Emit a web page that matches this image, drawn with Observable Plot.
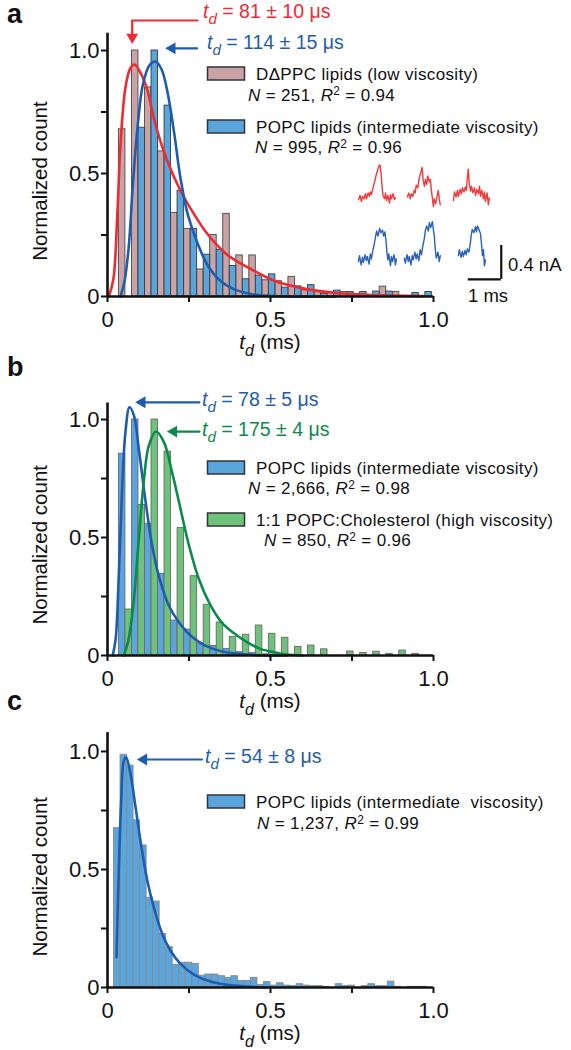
<!DOCTYPE html>
<html><head><meta charset="utf-8">
<script src="https://cdn.jsdelivr.net/npm/d3@7"></script>
<script src="https://cdn.jsdelivr.net/npm/@observablehq/plot@0.6"></script>
<style>
html,body{margin:0;padding:0;background:#fff;}
#fig{position:relative;width:571px;height:1050px;overflow:hidden;font-family:"Liberation Sans",Arial,Helvetica,sans-serif;}
</style></head><body><div id="fig"></div>
<script>
// ---------- data ----------
const tickValues = [0, 0.25, 0.5, 0.75, 1];
const tickLabels = ["0", "", "0.5", "", "1.0"];

// panel a: 0.04 ms bins, DΔPPC (left half) and POPC (right half)
const binLeftAB = d3.range(24).map(k => +(0.035 + 0.04 * k).toFixed(3));
const dappcA = [0.68, 1.0, 0.85, 0.59, 0.34, 0.275, 0.11, 0.25, 0.336, 0.167, 0.167, 0.066, 0.062, 0.08, 0.025, 0.019, 0.016, 0.018, 0.011, 0, 0.04, 0.018, 0, 0];
const popcA  = [0, 0.686, 1.0, 0.776, 0.43, 0.275, 0.17, 0.19, 0.124, 0.07, 0.085, 0.09, 0.036, 0.041, 0.046, 0.011, 0.024, 0.018, 0.018, 0.02, 0.02, 0, 0.014, 0.018];
const fitRedA_x = [0.004, 0.018, 0.03, 0.04, 0.055, 0.07, 0.083, 0.101, 0.122, 0.147, 0.183, 0.224, 0.265, 0.306, 0.367, 0.439, 0.51, 0.592, 0.695, 0.8, 0.97];
const fitRedA_y = [0, 0.07, 0.33, 0.62, 0.85, 0.928, 0.943, 0.91, 0.84, 0.70, 0.553, 0.43, 0.336, 0.255, 0.17, 0.112, 0.065, 0.035, 0.015, 0.007, 0.002];
const fitBlueA_x = [0.04, 0.052, 0.065, 0.078, 0.093, 0.109, 0.13, 0.147, 0.166, 0.185, 0.205, 0.224, 0.247, 0.278, 0.308, 0.345, 0.387, 0.449, 0.53, 0.7];
const fitBlueA_y = [0, 0.06, 0.2, 0.46, 0.70, 0.865, 0.943, 0.955, 0.923, 0.824, 0.66, 0.48, 0.33, 0.21, 0.125, 0.065, 0.03, 0.008, 0.001, 0];

// panel b
const popcB  = [0.855, 1.0, 0.558, 0.346, 0.148, 0.11, 0.05, 0.04, 0.028, 0.014, 0.01, 0.005, 0, 0, 0, 0, 0, 0, 0, 0, 0, 0, 0, 0];
const cholB  = [0.195, 0.638, 1.0, 0.864, 0.54, 0.336, 0.215, 0.14, 0.078, 0.088, 0.127, 0.092, 0.075, 0.036, 0.042, 0.026, 0, 0.017, 0.011, 0.016, 0.007, 0.021, 0.007, 0];
const fitBlueB_x = [0.016, 0.025, 0.035, 0.045, 0.055, 0.0675, 0.081, 0.096, 0.117, 0.137, 0.157, 0.188, 0.219, 0.26, 0.30, 0.352, 0.44, 0.55];
const fitBlueB_y = [0, 0.07, 0.353, 0.706, 0.946, 1.052, 1.017, 0.876, 0.65, 0.466, 0.339, 0.212, 0.141, 0.078, 0.042, 0.017, 0.003, 0];
const fitGreenB_x = [0.05, 0.065, 0.081, 0.096, 0.111, 0.127, 0.149, 0.173, 0.198, 0.224, 0.25, 0.28, 0.311, 0.35, 0.387, 0.429, 0.469, 0.51, 0.55, 0.6];
const fitGreenB_y = [0, 0.07, 0.24, 0.494, 0.734, 0.89, 0.949, 0.904, 0.777, 0.621, 0.466, 0.325, 0.226, 0.14, 0.095, 0.056, 0.028, 0.014, 0.004, 0];

// panel c: 0.02 ms bins
const binLeftC = d3.range(48).map(k => +(0.02 + 0.02 * k).toFixed(3));
const popcC = [0.675, 0.986, 0.94, 0.708, 0.602, 0.38, 0.364, 0.227, 0.171, 0.096, 0.105, 0.105, 0.10, 0.05, 0.055, 0.055, 0.048, 0.041, 0.048, 0.028, 0.028, 0.041, 0.011, 0.023, 0.008, 0.018, 0.008, 0.006, 0.014, 0.008, 0.006, 0.006, 0.003, 0, 0.014, 0.006, 0.008, 0, 0.006, 0.014, 0.006, 0.006, 0.025, 0.003, 0, 0.003, 0.003, 0.003];
const fitC_x = [0.0276, 0.035, 0.042, 0.05, 0.057, 0.0706, 0.086, 0.101, 0.122, 0.142, 0.168, 0.193, 0.224, 0.265, 0.316, 0.367, 0.429, 0.49];
const fitC_y = [0.128, 0.51, 0.79, 0.96, 0.975, 0.905, 0.764, 0.623, 0.453, 0.34, 0.227, 0.157, 0.10, 0.055, 0.025, 0.011, 0.004, 0];

// annotation arrows (data units), head rotation
const arrowsA = [
  {pts: [[0.276, 1.122], [0.0758, 1.122], [0.0758, 1.06]], head: [0.0758, 1.054], rot: 180, color: "red"},
  {pts: [[0.275, 1.009], [0.198, 1.009]], head: [0.198, 1.009], rot: -90, color: "blue"}
];
const arrowsB = [
  {pts: [[0.282, 1.073], [0.106, 1.073]], head: [0.106, 1.073], rot: -90, color: "blue"},
  {pts: [[0.282, 0.949], [0.203, 0.949]], head: [0.203, 0.949], rot: -90, color: "green"}
];
const arrowsC = [
  {pts: [[0.29, 0.966], [0.111, 0.966]], head: [0.111, 0.966], rot: -90, color: "blue"}
];

// inset current traces (time in ms, current in nA relative to baseline)
const redT1 = [0, 0.045, 0.09, 0.12, 0.17, 0.21, 0.24, 0.29, 0.33, 0.36, 0.39, 0.44, 0.48, 0.53, 0.58, 0.62, 0.65, 0.68, 0.71, 0.74, 0.79, 0.82, 0.85, 0.89, 0.94, 0.97, 1.0, 1.05, 1.09, 1.12];
const redI1 = [0, 0.05, -0.02, 0.04, 0.01, 0.07, 0.01, 0.08, 0.04, 0.09, 0.06, 0.14, 0.2, 0.28, 0.35, 0.4, 0.41, 0.33, 0.18, 0.05, 0.01, 0.08, -0.01, 0.05, -0.04, 0.06, 0.01, 0.07, 0, 0.02];
const redT2 = [0, 0.045, 0.09, 0.12, 0.17, 0.21, 0.24, 0.27, 0.32, 0.36, 0.41, 0.45, 0.48, 0.52, 0.55, 0.59, 0.62, 0.67, 0.7, 0.73, 0.76, 0.79, 0.82, 0.86, 0.91, 0.94, 0.97, 1.0];
const redI2 = [0, 0.05, -0.02, 0.04, 0.01, 0.08, 0.05, 0.14, 0.11, 0.22, 0.29, 0.35, 0.2, 0.13, 0.21, 0.15, 0.25, 0.18, 0.21, 0.08, -0.01, -0.11, -0.02, -0.08, 0.02, 0.08, -0.02, -0.09];
const redT3 = [0, 0.03, 0.08, 0.12, 0.15, 0.2, 0.24, 0.27, 0.32, 0.36, 0.39, 0.42, 0.45, 0.48, 0.52, 0.55, 0.59, 0.64, 0.67, 0.71, 0.76, 0.79, 0.82, 0.86, 0.91, 0.94, 0.97, 1.02, 1.06, 1.09];
const redI3 = [-0.04, 0.06, 0, 0.08, 0.01, 0.09, 0.04, 0.11, 0.06, 0.12, 0.08, 0.22, 0.33, 0.16, 0.07, 0.13, 0.05, 0.11, 0.02, 0.09, 0.04, 0.13, 0.01, 0.08, -0.02, 0.06, -0.05, 0.05, -0.09, -0.01];
const blueT1 = [0, 0.03, 0.08, 0.12, 0.15, 0.2, 0.24, 0.27, 0.32, 0.36, 0.39, 0.44, 0.48, 0.52, 0.55, 0.59, 0.64, 0.68, 0.73, 0.76, 0.8, 0.83, 0.86, 0.89, 0.92, 0.97, 1.0, 1.03, 1.08, 1.12, 1.15];
const blueI1 = [-0.01, 0.06, -0.05, 0.04, -0.02, 0.07, 0, 0.05, -0.04, 0.08, 0.02, 0.13, 0.2, 0.29, 0.35, 0.29, 0.38, 0.33, 0.36, 0.29, 0.34, 0.25, 0.11, 0.01, 0.08, -0.06, 0.05, -0.01, 0.07, -0.05, 0.02];
const blueT2 = [0, 0.03, 0.08, 0.12, 0.15, 0.2, 0.24, 0.27, 0.32, 0.36, 0.39, 0.44, 0.48, 0.52, 0.56, 0.61, 0.64, 0.68, 0.73, 0.76, 0.8, 0.85, 0.88, 0.91, 0.94, 0.97, 1.02, 1.06, 1.09];
const blueI2 = [0.02, -0.04, 0.06, -0.02, 0.04, -0.06, 0.05, 0, 0.09, 0.01, 0.07, -0.01, 0.12, 0.06, 0.16, 0.26, 0.35, 0.4, 0.34, 0.44, 0.38, 0.45, 0.36, 0.28, 0.12, 0.02, 0.09, -0.02, 0.05];
const blueT3 = [0, 0.03, 0.08, 0.12, 0.15, 0.2, 0.24, 0.27, 0.32, 0.36, 0.39, 0.42, 0.47, 0.52, 0.55, 0.58, 0.62, 0.67, 0.7, 0.73, 0.76, 0.79, 0.82];
const blueI3 = [0.01, 0.08, -0.01, 0.06, 0, 0.07, 0.02, 0.09, 0.05, 0.15, 0.25, 0.32, 0.28, 0.35, 0.29, 0.36, 0.32, 0.27, 0.15, 0.01, 0.08, -0.11, -0.04];
const traceStart = [0, 1.48, 2.88, 0, 1.39, 3.03];       // ms offset of each trace in inset
const traceBase  = [0.72, 0.75, 0.75, 0, 0.01, 0.05];    // nA offset of each trace
const scaleBar = {t: 4.33, i: -0.22, ms: 1, nA: 0.4};

// ---------- style ----------
const FONT = '"Liberation Sans", Arial, Helvetica, sans-serif';
const C = {
  pink: "#c9a3a6", blueBar: "#5aa5dc", greenBar: "#6fc27c",
  red: "#ed2b30", blue: "#1f5cae", green: "#0a8b4b",
  redTrace: "#ee3b3b", blueTrace: "#2a62b8"
};

const fig = d3.select("#fig");
const tickText = new Map(tickValues.map((v, i) => [v, tickLabels[i]]));
const zip = (xs, ys) => xs.map((x, i) => ({x, y: ys[i]}));

function barRows(lefts, vals, offset, w) {
  return lefts.map((l, i) => ({x1: l + offset, x2: l + offset + w, y1: 0, y2: vals[i]}));
}

function arrowMarks(arrows) {
  const out = [];
  for (const a of arrows) {
    const col = C[a.color];
    out.push(Plot.line(a.pts, {x: d => d[0], y: d => d[1], stroke: col, strokeWidth: 2.2}));
    out.push(Plot.dot([a.head], {x: d => d[0], y: d => d[1], symbol: "triangle", r: 4.4, fill: col, stroke: "none", rotate: a.rot}));
  }
  return out;
}

function panel({top, height, mt, mb, ymax, marks}) {
  const svg = Plot.plot({
    width: 571, height,
    marginLeft: 107, marginRight: 138, marginTop: mt, marginBottom: mb,
    x: {domain: [0, 1]},
    y: {domain: [0, ymax]},
    style: {fontFamily: FONT, fontSize: "22px", color: "#111", background: "transparent", overflow: "visible"},
    marks: [
      ...marks,
      Plot.ruleX([0], {y1: 0, y2: ymax, stroke: "#111", strokeWidth: 2.6}),
      Plot.ruleY([0], {x1: 0, x2: 1, stroke: "#111", strokeWidth: 2.6}),
      Plot.axisX({ticks: tickValues, tickFormat: d => tickText.get(d), tickSize: 6, tickPadding: 9, strokeWidth: 2, stroke: "#111", label: null}),
      Plot.axisY({ticks: tickValues, tickFormat: d => tickText.get(d), tickSize: 6, tickPadding: 2, strokeWidth: 2, stroke: "#111", label: null})
    ]
  });
  svg.style.position = "absolute";
  svg.style.left = "0px";
  svg.style.top = top + "px";
  fig.node().appendChild(svg);
  return svg;
}

// panel a
panel({top: 0, height: 360, mt: 32.8, mb: 64, ymax: 1.07, marks: [
  Plot.rect(barRows(binLeftAB, dappcA, 0, 0.02), {x1: "x1", x2: "x2", y1: "y1", y2: "y2", fill: C.pink, stroke: "#4a4a4a", strokeWidth: 0.9}),
  Plot.rect(barRows(binLeftAB, popcA, 0.02, 0.02), {x1: "x1", x2: "x2", y1: "y1", y2: "y2", fill: C.blueBar, stroke: "#3a3a3a", strokeWidth: 0.9}),
  Plot.line(zip(fitRedA_x, fitRedA_y), {x: "x", y: "y", curve: "catmull-rom", stroke: C.red, strokeWidth: 2.6}),
  Plot.line(zip(fitBlueA_x, fitBlueA_y), {x: "x", y: "y", curve: "catmull-rom", stroke: C.blue, strokeWidth: 2.6}),
  ...arrowMarks(arrowsA)
]});

// panel b
panel({top: 360, height: 360, mt: 42.5, mb: 65, ymax: 1.07, marks: [
  Plot.rect(barRows(binLeftAB, popcB, 0, 0.02), {x1: "x1", x2: "x2", y1: "y1", y2: "y2", fill: C.blueBar, stroke: "#6a6a6a", strokeWidth: 0.9}),
  Plot.rect(barRows(binLeftAB, cholB, 0.02, 0.02), {x1: "x1", x2: "x2", y1: "y1", y2: "y2", fill: C.greenBar, stroke: "#6a6a6a", strokeWidth: 0.9}),
  Plot.line(zip(fitBlueB_x, fitBlueB_y), {x: "x", y: "y", curve: "catmull-rom", stroke: C.blue, strokeWidth: 2.6}),
  Plot.line(zip(fitGreenB_x, fitGreenB_y), {x: "x", y: "y", curve: "catmull-rom", stroke: C.green, strokeWidth: 2.6}),
  ...arrowMarks(arrowsB)
]});

// panel c
panel({top: 720, height: 330, mt: 12.1, mb: 63, ymax: 1.08, marks: [
  Plot.rect(barRows(binLeftC, popcC, 0, 0.02), {x1: "x1", x2: "x2", y1: "y1", y2: "y2", fill: C.blueBar, stroke: "#8a8a8a", strokeWidth: 0.9}),
  Plot.line(zip(fitC_x, fitC_y), {x: "x", y: "y", curve: "catmull-rom", stroke: C.blue, strokeWidth: 2.6}),
  ...arrowMarks(arrowsC)
]});

// inset traces (panel a)
const traces = [[redT1, redI1], [redT2, redI2], [redT3, redI3], [blueT1, blueI1], [blueT2, blueI2], [blueT3, blueI3]];
const traceRows = traces.flatMap(([T, I], k) => T.map((t, j) => ({
  t: t + traceStart[k], i: I[j] + traceBase[k], id: k, kind: k < 3 ? "red" : "blue"
})));
const inset = Plot.plot({
  width: 150, height: 139, margin: 0,
  x: {domain: [0, 4.55], axis: null},
  y: {domain: [-0.34, 1.3], axis: null},
  style: {background: "transparent", overflow: "visible"},
  marks: [
    Plot.line(traceRows.filter(d => d.kind === "red"), {x: "t", y: "i", z: "id", stroke: C.redTrace, strokeWidth: 1.4}),
    Plot.line(traceRows.filter(d => d.kind === "blue"), {x: "t", y: "i", z: "id", stroke: C.blueTrace, strokeWidth: 1.4}),
    Plot.ruleX([scaleBar], {x: "t", y1: d => d.i, y2: d => d.i + d.nA, stroke: "#111", strokeWidth: 2.2}),
    Plot.ruleY([scaleBar], {y: "i", x1: d => d.t - d.ms, x2: "t", stroke: "#111", strokeWidth: 2.2})
  ]
});
inset.style.position = "absolute";
inset.style.left = "358px";
inset.style.top = "150px";
fig.node().appendChild(inset);

// ---------- overlay text ----------
const ov = fig.append("svg").attr("width", 571).attr("height", 1050)
  .style("position", "absolute").style("left", "0px").style("top", "0px")
  .style("pointer-events", "none").style("font-family", FONT);

function rich(x, y, parts, {size = 17, fill = "#111", anchor = "start", weight = "normal", transform = null, spacing = 0} = {}) {
  const t = ov.append("text").attr("x", x).attr("y", y).attr("font-size", size)
    .attr("fill", fill).attr("text-anchor", anchor).attr("font-weight", weight)
    .style("white-space", "pre").style("letter-spacing", spacing + "px");
  if (transform) t.attr("transform", transform).attr("x", 0).attr("y", 0);
  let shift = 0;
  for (const p of parts) {
    const [txt, st = ""] = Array.isArray(p) ? p : [p];
    const s = t.append("tspan").text(txt);
    let target = 0;
    if (st.includes("sub")) { s.attr("font-size", size * 0.78); target = size * 0.32; }
    if (st.includes("sup")) { s.attr("font-size", size * 0.7); target = -size * 0.3; }
    if (target !== shift) { s.attr("dy", target - shift); shift = target; }
    if (st.includes("i")) s.attr("font-style", "italic");
  }
  return t;
}
const td = [["t", "i"], ["d", "isub"]];

// panel letters
rich(7, 23, ["a"], {size: 27, weight: "bold"});
rich(7, 376, ["b"], {size: 27, weight: "bold"});
rich(7, 710, ["c"], {size: 27, weight: "bold"});

// axis titles
const axisTitles = [{zeroY: 296, ppu: 246}, {zeroY: 655, ppu: 236}, {zeroY: 987, ppu: 236}];
for (const a of axisTitles) {
  rich(0, 0, ["Normalized count"], {size: 20.5, anchor: "middle", transform: `translate(47,${a.zeroY - 0.467 * a.ppu}) rotate(-90)`});
  rich(270, a.zeroY + 53, [...td, " (ms)"], {size: 20.5, anchor: "middle"});
}

// fit annotations
rich(203, 18, [...td, " = 81 ± 10 μs"], {size: 19.5, fill: C.red});
rich(207, 49, [...td, " = 114 ± 15 μs"], {size: 19.5, fill: C.blue});
rich(202, 406, [...td, " = 78 ± 5 μs"], {size: 19.5, fill: C.blue});
rich(202, 436, [...td, " = 175 ± 4 μs"], {size: 19.5, fill: C.green});
rich(205, 763, [...td, " = 54 ± 8 μs"], {size: 19.5, fill: C.blue});

// legends
const legends = [
  {y: 67, fill: C.pink, label: "DΔPPC lipids (low viscosity)", n: "251", r2: "0.94", nx: 248, ny: 100.5},
  {y: 120, fill: C.blueBar, label: "POPC lipids (intermediate viscosity)", n: "995", r2: "0.96", nx: 255, ny: 153},
  {y: 461, fill: C.blueBar, label: "POPC lipids (intermediate viscosity)", n: "2,666", r2: "0.98", nx: 248, ny: 494},
  {y: 513, fill: C.greenBar, label: "1:1 POPC:Cholesterol (high viscosity)", n: "850", r2: "0.96", nx: 264, ny: 546},
  {y: 795, fill: C.blueBar, label: "POPC lipids (intermediate  viscosity)", n: "1,237", r2: "0.99", nx: 257, ny: 829}
];
for (const L of legends) {
  ov.append("rect").attr("x", 207.5).attr("y", L.y).attr("width", 37).attr("height", 13)
    .attr("fill", L.fill).attr("stroke", "#333").attr("stroke-width", 1.5);
  rich(256, L.y + 13.3, [L.label], {size: 17, spacing: 0.35});
  rich(L.nx, L.ny, [["N", "i"], ` = ${L.n}, `, ["R", "i"], ["2", "sup"], ` = ${L.r2}`], {size: 17, spacing: 0.35});
}

// scale bar labels
rich(508, 271, ["0.4 nA"], {size: 18.5});
rich(468, 302, ["1 ms"], {size: 18.5});
</script></body></html>
